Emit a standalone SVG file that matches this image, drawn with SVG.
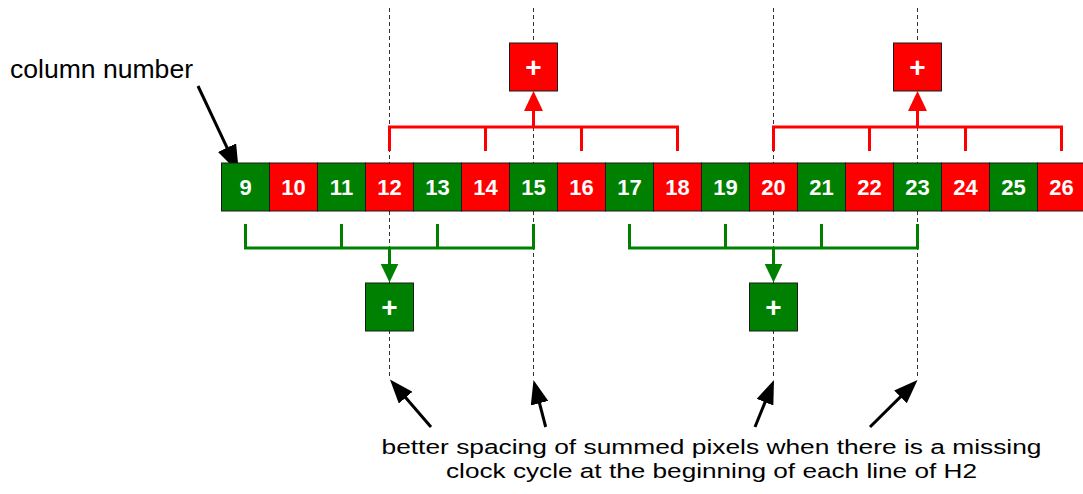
<svg xmlns="http://www.w3.org/2000/svg" width="1083" height="494" viewBox="0 0 1083 494">
<style>
.g{fill:#008000;stroke:#1a1a1a;stroke-width:1}
.r{fill:#ff0000;stroke:#1a1a1a;stroke-width:1}
.num{font-family:"Liberation Sans",Arial,sans-serif;font-weight:bold;font-size:22px;fill:#fff;text-anchor:middle}
.plus{font-family:"Liberation Sans",Arial,sans-serif;font-weight:bold;font-size:28px;fill:#fff;text-anchor:middle}
.lbl{font-family:"Liberation Sans",Arial,sans-serif;font-size:25px;fill:#000}
.note{font-family:"Liberation Sans",Arial,sans-serif;font-size:20.5px;fill:#000}
.dash{stroke:#333;stroke-width:1;stroke-dasharray:4 3;fill:none}
.rl{stroke:#ff0000;stroke-width:3;fill:none}
.gl{stroke:#008000;stroke-width:3;fill:none}
.bl{stroke:#000;stroke-width:3;fill:none}
</style>
<defs>
<marker id="ar" viewBox="0 0 20 20" refX="10" refY="10" markerWidth="20" markerHeight="20" markerUnits="userSpaceOnUse" orient="auto"><path d="M0,0.5 L20,10 L0,19.5 z" fill="#ff0000"/></marker>
<marker id="ag" viewBox="0 0 20 20" refX="10" refY="10" markerWidth="19" markerHeight="19" markerUnits="userSpaceOnUse" orient="auto"><path d="M0,0.5 L20,10 L0,19.5 z" fill="#008000"/></marker>
<marker id="ab" viewBox="0 0 24 18" refX="12" refY="9" markerWidth="24" markerHeight="18" markerUnits="userSpaceOnUse" orient="auto"><path d="M0,0 L24,9 L0,18 z" fill="#000"/></marker>
<marker id="abig" viewBox="0 0 28 20" refX="14" refY="10" markerWidth="28" markerHeight="20" markerUnits="userSpaceOnUse" orient="auto"><path d="M0,0 L28,10 L0,20 z" fill="#000"/></marker>
</defs>
<rect width="1083" height="494" fill="#fff"/>
<g id="guides">
<line class="dash" x1="389.5" y1="8" x2="389.5" y2="379"/>
<line class="dash" x1="533.5" y1="8" x2="533.5" y2="379"/>
<line class="dash" x1="773.5" y1="8" x2="773.5" y2="379"/>
<line class="dash" x1="917.5" y1="8" x2="917.5" y2="379"/>
</g>
<g id="connectors">
<path class="rl" d="M389.5,151 V127 H677.5 V151 M485.5,127 V151 M581.5,127 V151"/>
<line class="rl" x1="533.5" y1="127" x2="533.5" y2="101" marker-end="url(#ar)"/>
<path class="rl" d="M773.5,151 V127 H1061.5 V151 M869.5,127 V151 M965.5,127 V151"/>
<line class="rl" x1="917.5" y1="127" x2="917.5" y2="101" marker-end="url(#ar)"/>
<path class="gl" d="M245.5,224 V248 H533.5 V224 M341.5,248 V224 M437.5,248 V224"/>
<line class="gl" x1="389.5" y1="248" x2="389.5" y2="273" marker-end="url(#ag)"/>
<path class="gl" d="M629.5,224 V248 H917.5 V224 M725.5,248 V224 M821.5,248 V224"/>
<line class="gl" x1="773.5" y1="248" x2="773.5" y2="273" marker-end="url(#ag)"/>
<line class="bl" x1="198" y1="86" x2="233" y2="160.3" marker-end="url(#abig)"/>
<line class="bl" x1="431" y1="427" x2="397.8" y2="388.6" marker-end="url(#ab)"/>
<line class="bl" x1="545.7" y1="427" x2="536.5" y2="391.6" marker-end="url(#ab)"/>
<line class="bl" x1="755" y1="427" x2="769.5" y2="391.1" marker-end="url(#ab)"/>
<line class="bl" x1="870" y1="427" x2="909" y2="388.4" marker-end="url(#ab)"/>
</g>
<g id="c9"><rect class="g" x="221.5" y="163" width="48" height="48"/><text class="num" x="245.5" y="195">9</text></g>
<g id="c10"><rect class="r" x="269.5" y="163" width="48" height="48"/><text class="num" x="293.5" y="195">10</text></g>
<g id="c11"><rect class="g" x="317.5" y="163" width="48" height="48"/><text class="num" x="341.5" y="195">11</text></g>
<g id="c12"><rect class="r" x="365.5" y="163" width="48" height="48"/><text class="num" x="389.5" y="195">12</text></g>
<g id="c13"><rect class="g" x="413.5" y="163" width="48" height="48"/><text class="num" x="437.5" y="195">13</text></g>
<g id="c14"><rect class="r" x="461.5" y="163" width="48" height="48"/><text class="num" x="485.5" y="195">14</text></g>
<g id="c15"><rect class="g" x="509.5" y="163" width="48" height="48"/><text class="num" x="533.5" y="195">15</text></g>
<g id="c16"><rect class="r" x="557.5" y="163" width="48" height="48"/><text class="num" x="581.5" y="195">16</text></g>
<g id="c17"><rect class="g" x="605.5" y="163" width="48" height="48"/><text class="num" x="629.5" y="195">17</text></g>
<g id="c18"><rect class="r" x="653.5" y="163" width="48" height="48"/><text class="num" x="677.5" y="195">18</text></g>
<g id="c19"><rect class="g" x="701.5" y="163" width="48" height="48"/><text class="num" x="725.5" y="195">19</text></g>
<g id="c20"><rect class="r" x="749.5" y="163" width="48" height="48"/><text class="num" x="773.5" y="195">20</text></g>
<g id="c21"><rect class="g" x="797.5" y="163" width="48" height="48"/><text class="num" x="821.5" y="195">21</text></g>
<g id="c22"><rect class="r" x="845.5" y="163" width="48" height="48"/><text class="num" x="869.5" y="195">22</text></g>
<g id="c23"><rect class="g" x="893.5" y="163" width="48" height="48"/><text class="num" x="917.5" y="195">23</text></g>
<g id="c24"><rect class="r" x="941.5" y="163" width="48" height="48"/><text class="num" x="965.5" y="195">24</text></g>
<g id="c25"><rect class="g" x="989.5" y="163" width="48" height="48"/><text class="num" x="1013.5" y="195">25</text></g>
<g id="c26"><rect class="r" x="1037.5" y="163" width="48" height="48"/><text class="num" x="1061.5" y="195">26</text></g>
<g id="sumR1"><rect class="r" x="509.5" y="43" width="48" height="48"/><text class="plus" x="533.5" y="77">+</text></g>
<g id="sumR2"><rect class="r" x="893.5" y="43" width="48" height="48"/><text class="plus" x="917.5" y="77">+</text></g>
<g id="sumG1"><rect class="g" x="365.5" y="283" width="48" height="48"/><text class="plus" x="389.5" y="317">+</text></g>
<g id="sumG2"><rect class="g" x="749.5" y="283" width="48" height="48"/><text class="plus" x="773.5" y="317">+</text></g>
<g id="label-column"><text class="lbl" x="10" y="78" textLength="183" lengthAdjust="spacingAndGlyphs">column number</text></g>
<g id="label-note">
<text class="note" x="381.5" y="453.5" textLength="660" lengthAdjust="spacingAndGlyphs">better spacing of summed pixels when there is a missing</text>
<text class="note" x="446" y="477.5" textLength="531" lengthAdjust="spacingAndGlyphs">clock cycle at the beginning of each line of H2</text>
</g>
</svg>
